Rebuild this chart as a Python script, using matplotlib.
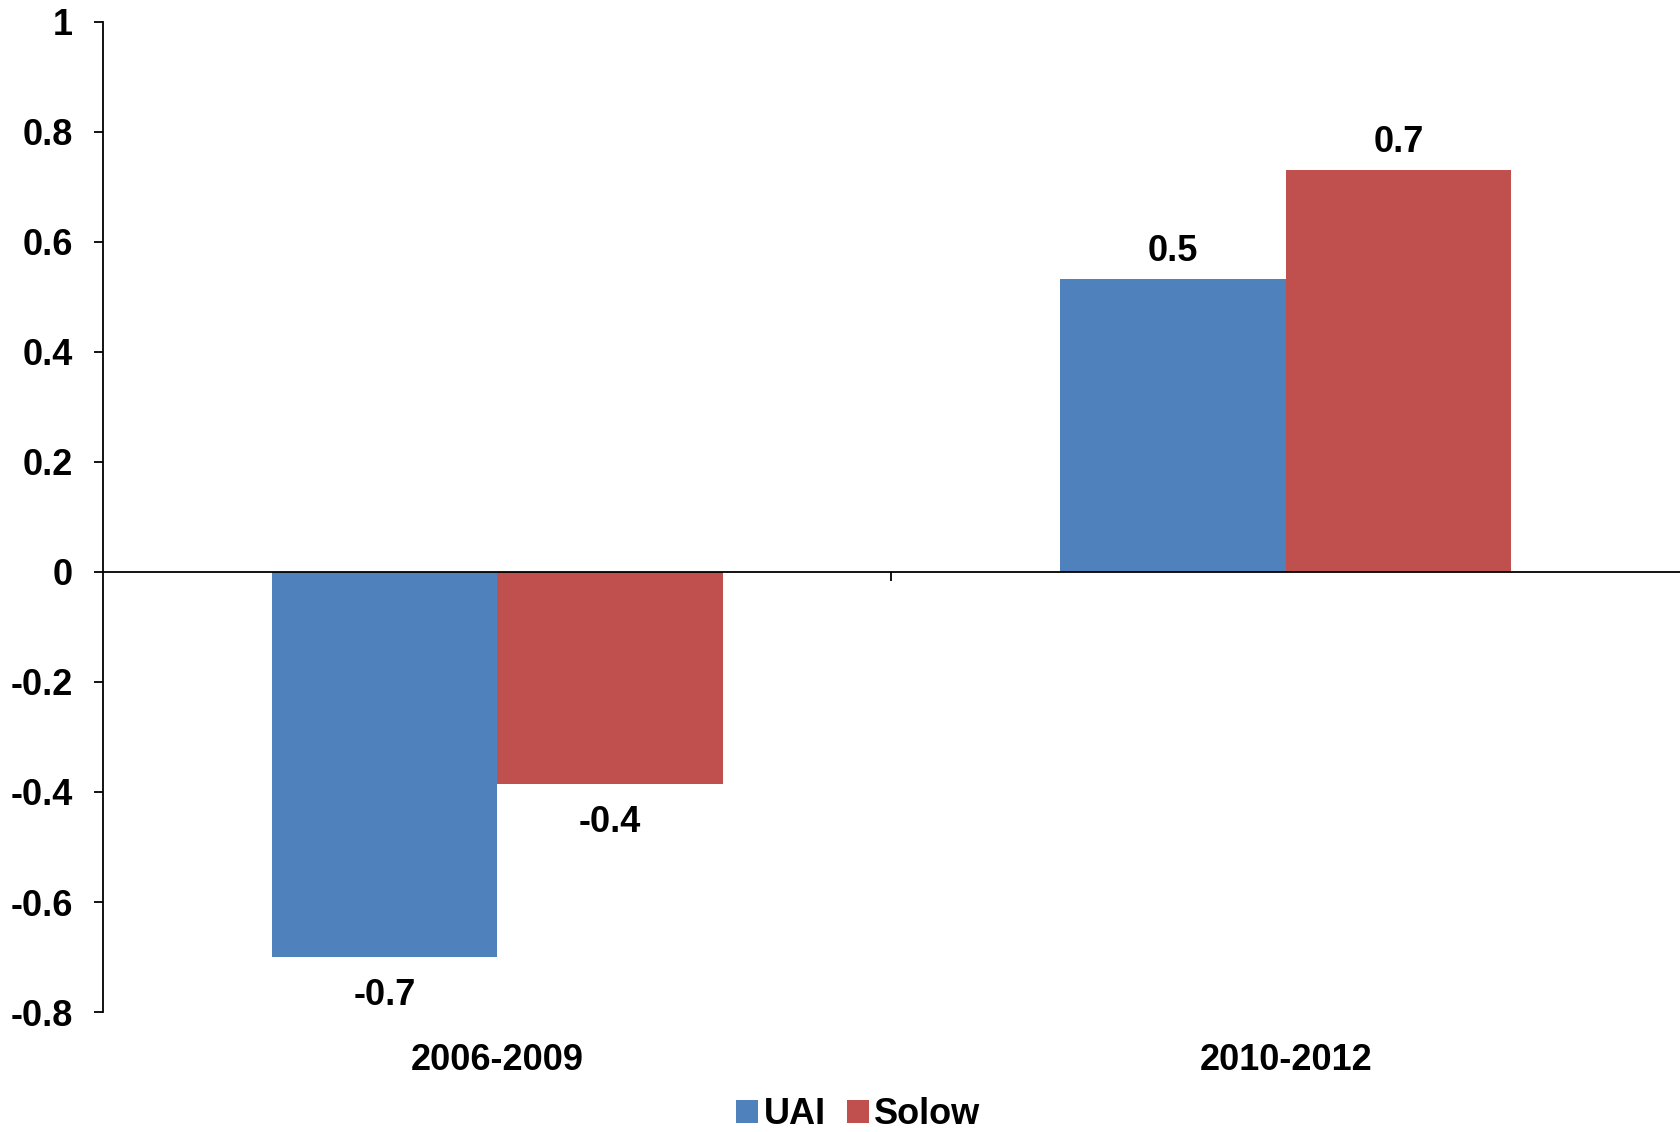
import matplotlib
matplotlib.use("Agg")
import matplotlib.pyplot as plt
import matplotlib.transforms as mtransforms
from matplotlib.patches import Patch

categories = ["2006-2009", "2010-2012"]
series = ["UAI", "Solow"]
uai = [-0.70, 0.533]
solow = [-0.385, 0.731]
colors = ["#4F81BD", "#C0504D"]
yticks = [-0.8, -0.6, -0.4, -0.2, 0, 0.2, 0.4, 0.6, 0.8, 1]
ytick_labels = ["-0.8", "-0.6", "-0.4", "-0.2", "0", "0.2", "0.4", "0.6", "0.8", "1"]

plt.rcParams['font.family'] = ['Liberation Sans', 'DejaVu Sans']
plt.rcParams['font.weight'] = 'bold'

FS = 26

fig = plt.figure(figsize=(16.8, 11.32), dpi=100)
ax = fig.add_axes([0.0613, 0.106, 1 - 0.0613, 0.9806 - 0.106])

w = 0.286
xs = list(range(len(categories)))
for i, (vals, c, name) in enumerate(zip([uai, solow], colors, series)):
    pos = [x + (i - 0.5) * w for x in xs]
    ax.bar(pos, vals, width=w, color=c, label=name)
    for p, v in zip(pos, vals):
        if v >= 0:
            ax.annotate(f"{v:.1f}", (p, v), xytext=(0, 7), textcoords="offset points",
                        ha="center", va="bottom", fontsize=FS, fontweight="bold")
        else:
            ax.annotate(f"{v:.1f}", (p, v), xytext=(0, -15), textcoords="offset points",
                        ha="center", va="top", fontsize=FS, fontweight="bold")

ax.set_xlim(-0.5, 1.5)
ax.set_ylim(-0.8, 1.0)
ax.set_yticks(yticks)
ax.set_yticklabels(ytick_labels, fontsize=FS, fontweight="bold")
ax.tick_params(axis="y", direction="out", length=6.5, width=1.3, pad=15)

ax.spines["top"].set_visible(False)
ax.spines["right"].set_visible(False)
ax.spines["left"].set_linewidth(1.3)
ax.spines["bottom"].set_position(("data", 0))
ax.spines["bottom"].set_linewidth(1.3)
ax.set_xticks([0.5])
ax.set_xticklabels([""])
ax.tick_params(axis="x", direction="out", length=6.5, width=1.3)

trans = mtransforms.blended_transform_factory(ax.transData, fig.transFigure)
for x, cat in zip(xs, categories):
    ax.text(x, 1 - 1061 / 1132, cat, transform=trans, ha="center", va="center",
            fontsize=FS, fontweight="bold")

handles = [Patch(facecolor=c, label=n) for c, n in zip(colors, series)]
fig.legend(handles=handles, loc="center", bbox_to_anchor=(0.511, 1 - 1115 / 1132), ncol=2,
           frameon=False, fontsize=FS, handlelength=0.6, handleheight=0.6,
           handletextpad=0.15, columnspacing=0.6, borderaxespad=0, borderpad=0.1)

fig.savefig("out.png", dpi=100)
